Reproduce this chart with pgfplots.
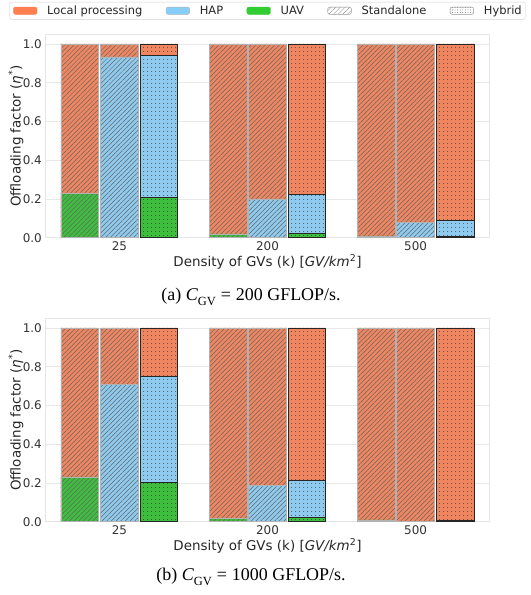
\documentclass[border=0pt]{standalone}
\usepackage{fontspec}
\setmainfont{DejaVu Sans}
\newfontfamily\capfont{Liberation Serif}
\usepackage{pgfplots}
\pgfplotsset{compat=1.18}
\usetikzlibrary{patterns.meta}

\definecolor{cOr}{HTML}{F08660}
\definecolor{cBl}{HTML}{8FCBEF}
\definecolor{cGr}{HTML}{3DBE3D}
\definecolor{lOr}{HTML}{FF7F50}
\definecolor{lBl}{HTML}{87CEFA}
\definecolor{lGr}{HTML}{32CD32}

\tikzset{
  sa/.style={draw=gray!60, line width=0.6bp,
    postaction={pattern={Lines[angle=45,distance=3.3bp,line width=0.5bp]}, pattern color=black!60}},
  hy/.style={draw=black!85, line width=0.9bp,
    postaction={pattern={Dots[distance=3.6bp,radius=0.5bp]}, pattern color=black!85}},
}

\pgfplotsset{
  myaxis/.style={
    scale only axis, width=444.4bp, height=203.4bp,
    xmin=-0.5, xmax=2.5, ymin=0, ymax=1.05,
    xtick={0,1,2}, xticklabels={25,200,500},
    ytick={0,0.2,0.4,0.6,0.8,1},
    yticklabel style={/pgf/number format/.cd, fixed, fixed zerofill, precision=1, assume math mode=true},
    tick label style={font=\fontsize{12}{14}\selectfont, text=black!80},
    label style={font=\fontsize{13.5}{16}\selectfont, text=black!85},
    major tick length=0pt,
    ymajorgrids, grid style={gray!18, line width=0.8bp},
    axis line style={gray!20, line width=0.8bp},
    xlabel={Density of GVs (k) [\textit{GV/km}\textsuperscript{2}]},
    ylabel={Offloading factor (\textit{η}\textsuperscript{*})},
    xlabel style={at={(axis description cs:0.5,0)}, anchor=center, yshift=-24bp},
    ylabel style={at={(axis description cs:-0.066,0.5)}, anchor=center},
  },
  bars/.style={ybar, bar shift=0pt, bar width=0.255, forget plot},
}

\begin{document}
\begin{tikzpicture}
\path[use as bounding box] (0,0) rectangle (531bp,-595bp);

% (a) C_GV = 200
\begin{axis}[myaxis, at={(45.3bp,-237.7bp)}, anchor=south west,
  legend style={at={(axis description cs:0.5,1.116)}, anchor=center,
    legend columns=5, draw=gray!35, rounded corners=2bp,
    font=\fontsize{11.5}{13}\selectfont, text=black!85,
    inner xsep=3.5bp, inner ysep=2bp,
    nodes={inner xsep=0pt, inner ysep=1.5bp},
    /tikz/every odd column/.append style={column sep=10bp},
    /tikz/every even column/.append style={column sep=23.5bp}},
]
\addlegendimage{legend image code/.code={\fill[lOr] (0bp,-3.6bp) rectangle (23.6bp,3.6bp);}}
\addlegendentry{Local processing}
\addlegendimage{legend image code/.code={\filldraw[fill=lBl, draw=gray!60, line width=0.4bp] (0bp,-3.6bp) rectangle (23.6bp,3.6bp);}}
\addlegendentry{HAP}
\addlegendimage{legend image code/.code={\fill[lGr] (0bp,-3.6bp) rectangle (23.6bp,3.6bp);}}
\addlegendentry{UAV}
\addlegendimage{legend image code/.code={\filldraw[fill=white, draw=gray!60, line width=0.4bp, postaction={pattern={Lines[angle=45,distance=3.3bp,line width=0.45bp]}, pattern color=black!40}] (0bp,-3.6bp) rectangle (23.6bp,3.6bp);}}
\addlegendentry{Standalone}
\addlegendimage{legend image code/.code={\filldraw[fill=white, draw=gray!60, line width=0.4bp, postaction={pattern={Dots[distance=2.6bp,radius=0.4bp]}, pattern color=black!70}] (0bp,-3.6bp) rectangle (23.6bp,3.6bp);}}
\addlegendentry{Hybrid}

% Standalone bars (UAV-only at -0.267, HAP-only at 0)
\addplot[bars, fill=cOr, sa] coordinates {(-0.267,1) (0,1) (0.733,1) (1,1) (1.733,1) (2,1)};
\addplot[bars, fill=cBl, sa] coordinates {(0,0.933) (1,0.200) (2,0.078)};
\addplot[bars, fill=cGr, sa] coordinates {(-0.267,0.230) (0.733,0.020) (1.733,0.009)};
% Hybrid bars (cumulative heights)
\addplot[bars, fill=cOr, hy] coordinates {(0.267,1) (1.267,1) (2.267,1)};
\addplot[bars, fill=cBl, hy] coordinates {(0.267,0.943) (1.267,0.225) (2.267,0.088)};
\addplot[bars, fill=cGr, hy] coordinates {(0.267,0.209) (1.267,0.023) (2.267,0.008)};
\end{axis}

% (b) C_GV = 1000
\begin{axis}[myaxis, at={(45.3bp,-521.7bp)}, anchor=south west]
\addplot[bars, fill=cOr, sa] coordinates {(-0.267,1) (0,1) (0.733,1) (1,1) (1.733,1) (2,1)};
\addplot[bars, fill=cBl, sa] coordinates {(0,0.707) (1,0.187)};
\addplot[bars, fill=cGr, sa] coordinates {(-0.267,0.231) (0.733,0.018) (1.733,0.009)};
\addplot[bars, fill=cOr, hy] coordinates {(0.267,1) (1.267,1) (2.267,1)};
\addplot[bars, fill=cBl, hy] coordinates {(0.267,0.752) (1.267,0.212)};
\addplot[bars, fill=cGr, hy] coordinates {(0.267,0.201) (1.267,0.023) (2.267,0.008)};
\end{axis}

\node[font=\capfont\fontsize{18}{21}\selectfont] at (251bp,-297bp)
  {(a) \textit{C}\raisebox{-0.3em}{\fontsize{12.5}{12.5}\selectfont GV}\;=\;200 GFLOP/s.};
\node[font=\capfont\fontsize{18}{21}\selectfont] at (251bp,-577bp)
  {(b) \textit{C}\raisebox{-0.3em}{\fontsize{12.5}{12.5}\selectfont GV}\;=\;1000 GFLOP/s.};
\end{tikzpicture}
\end{document}
